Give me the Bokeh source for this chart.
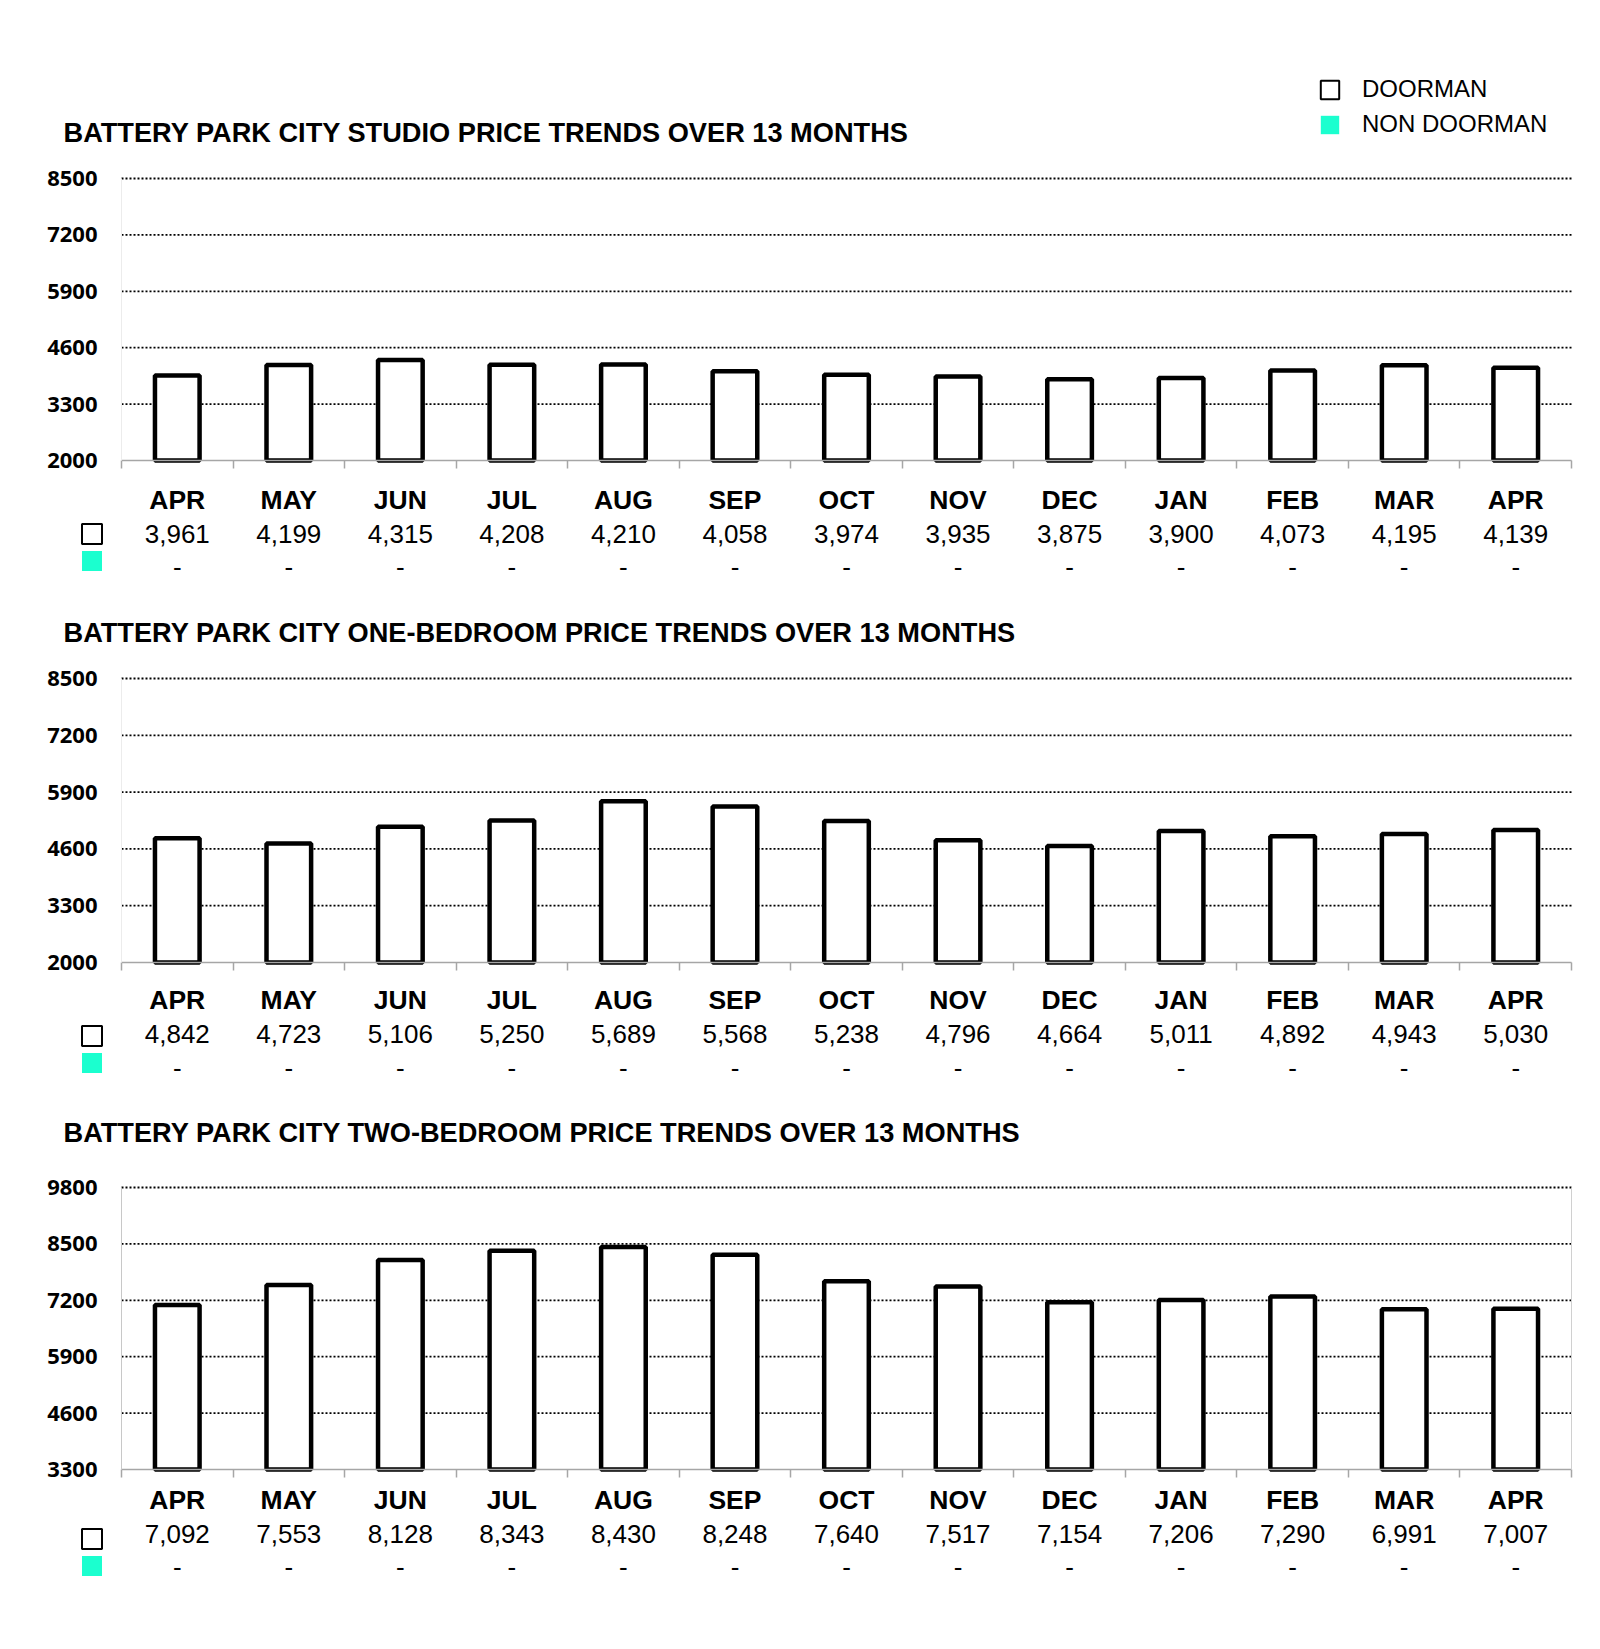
import numpy as np
from bokeh.plotting import figure
from bokeh.models import (Range1d, LinearAxis, FixedTicker, Legend, LegendItem, Label)
from bokeh.layouts import column
from bokeh.embed import file_html
from bokeh.resources import INLINE

# ---------------- data ----------------
months = ["APR", "MAY", "JUN", "JUL", "AUG", "SEP", "OCT", "NOV", "DEC", "JAN", "FEB", "MAR", "APR"]

studio_doorman = [3961, 4199, 4315, 4208, 4210, 4058, 3974, 3935, 3875, 3900, 4073, 4195, 4139]
studio_non_doorman = [None] * 13

one_bed_doorman = [4842, 4723, 5106, 5250, 5689, 5568, 5238, 4796, 4664, 5011, 4892, 4943, 5030]
one_bed_non_doorman = [None] * 13

two_bed_doorman = [7092, 7553, 8128, 8343, 8430, 8248, 7640, 7517, 7154, 7206, 7290, 6991, 7007]
two_bed_non_doorman = [None] * 13

ticks_studio = [2000, 3300, 4600, 5900, 7200, 8500]
ticks_one_bed = [2000, 3300, 4600, 5900, 7200, 8500]
ticks_two_bed = [3300, 4600, 5900, 7200, 8500, 9800]

titles = [
    "BATTERY PARK CITY STUDIO PRICE TRENDS OVER 13 MONTHS",
    "BATTERY PARK CITY ONE-BEDROOM PRICE TRENDS OVER 13 MONTHS",
    "BATTERY PARK CITY TWO-BEDROOM PRICE TRENDS OVER 13 MONTHS",
]
series_names = ["DOORMAN", "NON DOORMAN"]

# ---------------- layout / style ----------------
TEAL = "#1bffcf"
AXIS_GRAY = "#a6a6a6"
W = 1584
AX_L, AX_R = 121, 1571          # pixel span of the category axis
N = len(months)
UPX = N / (AX_R - AX_L)          # data units per pixel (x)


def fmt(v):
    return "-" if v is None else f"{v:,}"


def make_chart(title, doorman, non_doorman, yticks, lay, top_legend=False):
    H = lay["height"]
    top0 = lay["page_top"]
    base_l = lay["base_px"] - top0
    top_l = lay["top_px"] - top0
    upp = (yticks[-1] - yticks[0]) / (base_l - top_l)
    y0 = yticks[0] - (H - base_l) * upp
    y1 = yticks[0] + base_l * upp
    x0 = -AX_L * UPX
    x1 = N + (W - AX_R) * UPX

    def X(px):
        return x0 + px * UPX

    def Y(py):
        return y1 - (py - top0) * upp

    centers = [i + 0.5 for i in range(N)]
    bounds = [float(i) for i in range(N + 1)]

    p = figure(frame_width=W, frame_height=H, x_range=Range1d(x0, x1), y_range=Range1d(y0, y1),
               x_axis_location=None, y_axis_location=None, min_border=0,
               toolbar_location=None, output_backend="svg",
               background_fill_color="white", border_fill_color="white")
    p.outline_line_color = None
    for g in p.grid:
        g.visible = False

    # title
    p.add_layout(Label(x=X(63), y=Y(lay["title_px"]), text=title, text_align="left",
                       text_baseline="middle", text_font="Liberation Sans",
                       text_font_size="27.2px", text_font_style="bold", text_color="black"))

    # dotted horizontal grid lines spanning the category axis only
    gt = yticks[1:]
    p.segment(x0=[0] * len(gt), x1=[N] * len(gt), y0=gt, y1=gt,
              line_color="black", line_dash="2 2", line_width=1.8)

    # y axis
    ya = LinearAxis(fixed_location=0, bounds=(yticks[0], yticks[-1]), ticker=FixedTicker(ticks=yticks))
    ya.major_tick_line_color = None
    ya.minor_tick_line_color = None
    ya.major_tick_out = 0
    ya.major_tick_in = 0
    ya.axis_line_color = lay["left_line"]
    ya.major_label_standoff = 24
    ya.major_label_text_font = "Open Sans"
    ya.major_label_text_font_style = "bold"
    ya.major_label_text_font_size = "22px"
    ya.major_label_text_color = "black"
    p.add_layout(ya, "left")

    if lay["right_line"]:
        ra = LinearAxis(fixed_location=N, bounds=(yticks[0], yticks[-1]), ticker=FixedTicker(ticks=[]))
        ra.axis_line_color = "#d0d0d0"
        ra.major_tick_line_color = None
        ra.minor_tick_line_color = None
        ra.major_label_text_color = None
        p.add_layout(ra, "right")

    # bars
    p.vbar(x=centers, top=doorman, bottom=yticks[0], width=0.40,
           fill_color="white", line_color="black", line_width=4.5)
    nd = np.array([np.nan if v is None else v for v in non_doorman], dtype=float)
    r_non = p.vbar(x=centers, top=nd, bottom=yticks[0], width=0.40,
                   fill_color=TEAL, line_color=None)
    # key glyph for the doorman series (thin outline, nothing drawn in the plot)
    r_door_key = p.vbar(x=centers, top=np.full(N, np.nan), bottom=yticks[0], width=0.40,
                        fill_color="white", line_color="black", line_width=2)

    # month axis with boundary ticks
    ax_m = LinearAxis(fixed_location=yticks[0], bounds=(0, N),
                      ticker=FixedTicker(ticks=centers, minor_ticks=bounds))
    ax_m.major_label_overrides = {c: m for c, m in zip(centers, months)}
    ax_m.axis_line_color = AXIS_GRAY
    ax_m.axis_line_width = 1.5
    ax_m.major_tick_line_color = None
    ax_m.major_tick_out = 0
    ax_m.major_tick_in = 0
    ax_m.minor_tick_line_color = AXIS_GRAY
    ax_m.minor_tick_line_width = 1.5
    ax_m.minor_tick_out = 8
    ax_m.minor_tick_in = 0
    ax_m.major_label_standoff = lay["m_so"]
    ax_m.major_label_text_font = "Liberation Sans"
    ax_m.major_label_text_font_style = "bold"
    ax_m.major_label_text_font_size = "26.5px"
    ax_m.major_label_text_color = "black"
    p.add_layout(ax_m, "below")

    for vals, so in ((doorman, lay["v_so"]), (non_doorman, lay["d_so"])):
        ax = LinearAxis(fixed_location=yticks[0], bounds=(0, N),
                        ticker=FixedTicker(ticks=centers, minor_ticks=[]))
        ax.major_label_overrides = {c: fmt(v) for c, v in zip(centers, vals)}
        ax.axis_line_color = None
        ax.major_tick_line_color = None
        ax.minor_tick_line_color = None
        ax.major_tick_out = 0
        ax.major_tick_in = 0
        ax.major_label_standoff = so
        ax.major_label_text_font = "Liberation Sans"
        ax.major_label_text_font_size = "26px"
        ax.major_label_text_color = "black"
        p.add_layout(ax, "below")

    # row keys beside the table
    p.add_layout(Legend(
        items=[LegendItem(label=" ", renderers=[r_door_key]),
               LegendItem(label=" ", renderers=[r_non])],
        location=(78.5, top0 + H - lay["key_bottom_px"]), orientation="vertical",
        glyph_width=25, glyph_height=25, spacing=2, padding=0, margin=0,
        border_line_color=None, background_fill_alpha=0,
        label_text_font_size="1px", label_height=25, label_width=0, label_standoff=0,
    ))

    if top_legend:
        p.add_layout(Legend(
            items=[LegendItem(label=series_names[0], renderers=[r_door_key]),
                   LegendItem(label=series_names[1], renderers=[r_non])],
            location=(1318, top0 + H - 138), orientation="vertical",
            glyph_width=23, glyph_height=23, spacing=7, padding=0, margin=0,
            border_line_color=None, background_fill_alpha=0,
            label_text_font="Liberation Sans", label_text_font_size="24px",
            label_text_color="black", label_height=28, label_standoff=21,
        ))
    return p


lay1 = dict(page_top=0, height=596, top_px=178, base_px=460, title_px=132,
            m_so=16, v_so=64, d_so=97, key_bottom_px=572.5, left_line="#ececec", right_line=False)
lay2 = dict(page_top=596, height=496, top_px=678, base_px=962, title_px=632,
            m_so=14, v_so=62, d_so=96, key_bottom_px=1074.5, left_line="#ececec", right_line=False)
lay3 = dict(page_top=1092, height=541, top_px=1187, base_px=1469, title_px=1132,
            m_so=7, v_so=55, d_so=88, key_bottom_px=1577.5, left_line="#c8c8c8", right_line=True)

p1 = make_chart(titles[0], studio_doorman, studio_non_doorman, ticks_studio, lay1, top_legend=True)
p2 = make_chart(titles[1], one_bed_doorman, one_bed_non_doorman, ticks_one_bed, lay2)
p3 = make_chart(titles[2], two_bed_doorman, two_bed_non_doorman, ticks_two_bed, lay3)

layout = column(p1, p2, p3, spacing=0)
open("out.html", "w").write(file_html(layout, INLINE))
